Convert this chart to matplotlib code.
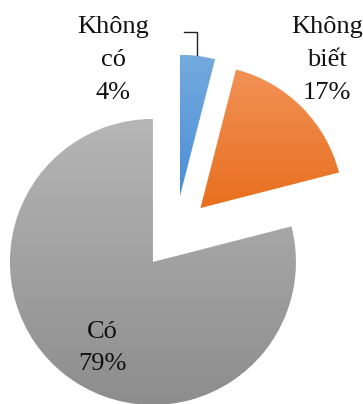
import matplotlib

matplotlib.use("Agg")
import matplotlib.pyplot as plt
import numpy as np
from matplotlib.colors import LinearSegmentedColormap

labels = ["Không\ncó\n4%", "Không\nbiết\n17%", "Có\n79%"]
values = [4, 17, 79]
top_colors = ["#74aade", "#f29156", "#b6b6b6"]
bottom_colors = ["#4a8ed6", "#e86f1e", "#8d8d8d"]

W, H = 363, 404
fig = plt.figure(figsize=(W / 100, H / 100), dpi=100)
ax = fig.add_axes([0, 0, 1, 1])

center = (175, H - 233.5)
radius = 143
wedges, _ = ax.pie(
    values,
    explode=[36, 36, 36],
    startangle=90,
    counterclock=False,
    radius=radius,
    center=center,
    frame=True,
)

# vertical gradient fill, lighter at top, clipped to each wedge
for w, c_top, c_bot in zip(wedges, top_colors, bottom_colors):
    w.set_facecolor("none")
    w.set_edgecolor("none")
    ext = w.get_path().get_extents(w.get_patch_transform())
    cmap = LinearSegmentedColormap.from_list("g", [c_bot, c_top])
    grad = np.linspace(0, 1, 256).reshape(-1, 1)
    im = ax.imshow(
        grad,
        cmap=cmap,
        extent=[ext.x0, ext.x1, ext.y0, ext.y1],
        origin="lower",
        aspect="auto",
        zorder=1,
    )
    im.set_clip_path(w)

ax.set_xlim(0, W)
ax.set_ylim(0, H)
ax.axis("off")

font = dict(family="Liberation Serif", fontsize=19, color="#111111",
            ha="center", va="center", linespacing=1.62)
label_pos = [(113, H - 60), (327, H - 60), (102, H - 348)]
for text, (x, y) in zip(labels, label_pos):
    ax.text(x, y, text, **font)

# leader line for the small slice
ax.plot([184, 197, 197], [H - 32, H - 32, H - 55], color="#222222", lw=1)

fig.savefig("out.png", dpi=100)
